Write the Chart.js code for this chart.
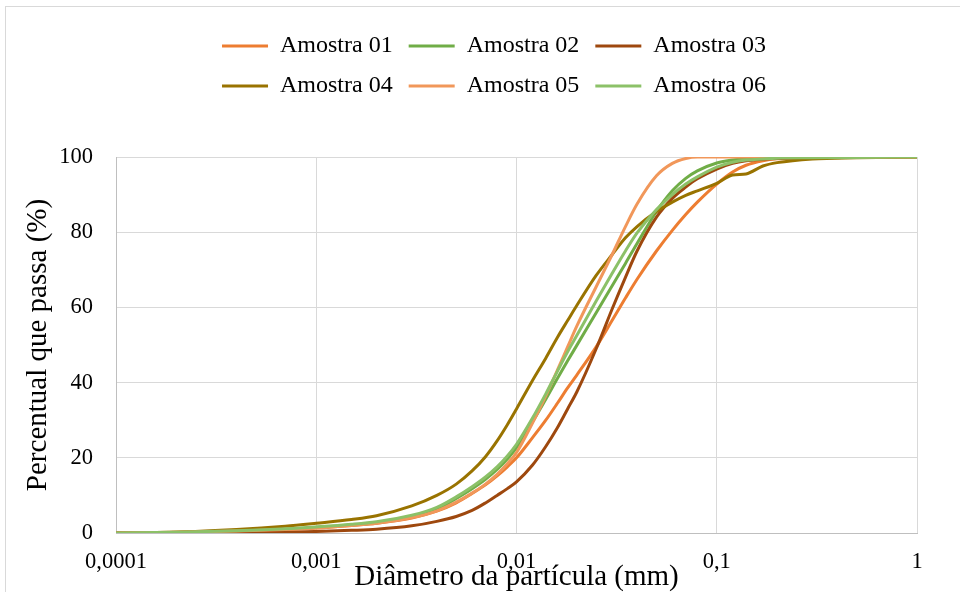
<!DOCTYPE html>
<html>
<head>
<meta charset="utf-8">
<script src="https://cdn.jsdelivr.net/npm/chart.js@4.4.1/dist/chart.umd.min.js"></script>
<style>
  body { margin: 0; background: #fff; overflow: hidden; }
  #frame { position: absolute; left: 5px; top: 6px; width: 1000px; height: 700px; border: 1px solid #d9d9d9; }
  #wrap { position: absolute; left: 0; top: 0; width: 960px; height: 592px; }
</style>
</head>
<body>
<div id="frame"></div>
<div id="wrap"><canvas id="grafico"></canvas></div>
<script>
// diametros (mm) e percentual que passa (%) de cada amostra
const diametros = [0.0001, 0.0002, 0.0004, 0.0007, 0.001, 0.0015, 0.002, 0.003, 0.004, 0.005,
    0.006, 0.007, 0.008, 0.009, 0.01, 0.012, 0.014, 0.016, 0.018, 0.02,
    0.025, 0.03, 0.035, 0.04, 0.05, 0.06, 0.07, 0.08, 0.1, 0.12,
    0.14, 0.17, 0.2, 0.3, 0.5, 1];

const amostra01 = [0, 0.2, 0.5, 0.9, 1.3, 2.0, 2.6, 4.0, 5.8, 8.0, 10.5, 12.8, 15.2, 17.6, 20, 25.3, 30, 34.5, 38.6, 42,
    49.5, 56.5, 62.5, 67.5, 75, 80.5, 84.7, 88, 92.8, 96, 97.8, 99, 99.5, 99.8, 99.9, 100];
const amostra02 = [0, 0.2, 0.5, 1.0, 1.5, 2.1, 2.7, 4.3, 6.3, 9.2, 11.8, 14.3, 16.9, 19.7, 22.7, 29.5, 35.6, 41.1, 45.8, 49.9,
    58.6, 65.7, 71.7, 77, 85.5, 91, 94.3, 96.3, 98.4, 99.2, 99.5, 99.7, 99.8, 99.9, 100, 100];
const amostra03 = [0, 0, 0.1, 0.2, 0.4, 0.7, 1.0, 1.9, 3.1, 4.4, 6.0, 8.0, 10, 11.8, 13.6, 18, 23, 28, 33, 37.5,
    49, 59.5, 68, 75, 84, 89, 92, 94.2, 96.8, 98.3, 99, 99.4, 99.6, 99.8, 99.9, 100];
const amostra04 = [0, 0.2, 0.9, 1.8, 2.6, 3.6, 4.6, 7.2, 10, 13, 16.5, 20.3, 24.5, 28.8, 33, 40.5, 46.5, 52, 56.5, 60.5,
    68.5, 74, 78.5, 81.5, 85.5, 88, 89.8, 91, 93, 95.2, 95.5, 97.6, 98.5, 99.5, 99.8, 100];
const amostra05 = [0, 0.2, 0.5, 0.9, 1.3, 2.0, 2.6, 4.1, 5.9, 8.2, 10.6, 13, 15.6, 18.4, 21.4, 29.2, 36.5, 43.3, 49.5, 55,
    65.5, 74, 81.5, 87.5, 95, 98.3, 99.6, 100, 100, 100, 100, 100, 100, 100, 100, 100];
const amostra06 = [0, 0.2, 0.6, 1.1, 1.6, 2.3, 3.0, 4.7, 6.8, 9.6, 12.3, 14.9, 17.6, 20.5, 23.6, 30.5, 37, 43, 48.2, 52.5,
    61.7, 69, 75, 79.8, 86, 90, 92.8, 94.7, 97.3, 98.6, 99.2, 99.5, 99.7, 99.8, 99.9, 100];

const nomes = ["Amostra 01", "Amostra 02", "Amostra 03", "Amostra 04", "Amostra 05", "Amostra 06"];
const cores = ["#ED7D31", "#70AD47", "#9E480E", "#997300", "#F1975A", "#8CC168"];
const xTicks = [0.0001, 0.001, 0.01, 0.1, 1];

const series = [amostra01, amostra02, amostra03, amostra04, amostra05, amostra06];
const fonte = "'Liberation Serif', 'Times New Roman', serif";

let datasets = series.map((vals, i) => ({
    label: nomes[i],
    data: diametros.map((d, j) => ({ x: d, y: vals[j] })),
    borderColor: cores[i],
    backgroundColor: cores[i],
    borderWidth: 3,
    pointRadius: 0,
    cubicInterpolationMode: "monotone",
    order: series.length - i   // ultima serie por cima
}));

// legenda: 3 itens por linha, altura fixa, centrada como no original
const ajusteLegenda = {
    id: "ajusteLegenda",
    beforeInit(chart) {
        const legend = chart.legend;
        const fit = legend.fit;
        legend.fit = function () {
            this.maxWidth = Math.min(this.maxWidth, 600);
            fit.call(this);
            this.height = 139;
        };
        const draw = legend.draw;
        legend.draw = function () {
            const c = this.ctx;
            c.save();
            c.translate(494 - (this.left + this.right) / 2, 0);
            draw.call(this);
            c.restore();
        };
    }
};

let ctx = document.getElementById("grafico").getContext("2d");

new Chart(ctx, {
    type: "line",
    data: { datasets: datasets },
    plugins: [ajusteLegenda],
    options: {
        responsive: true,
        maintainAspectRatio: false,
        animation: false,
        layout: { padding: { top: 18, left: 0, right: 43, bottom: 0 } },
        plugins: {
            tooltip: { enabled: false },
            legend: {
                position: "top",
                labels: {
                    font: { family: fonte, size: 24 },
                    color: "#000",
                    boxWidth: 46,
                    boxHeight: 3,
                    padding: 16,
                    sort: (a, b) => a.datasetIndex - b.datasetIndex,
                    generateLabels(chart) {
                        return Chart.defaults.plugins.legend.labels.generateLabels(chart)
                            .map(l => ({ ...l, fillStyle: l.strokeStyle, lineWidth: 0 }));
                    }
                }
            }
        },
        scales: {
            x: {
                type: "logarithmic",
                min: 0.0001,
                max: 1,
                afterBuildTicks: s => { s.ticks = xTicks.map(v => ({ value: v })); },
                afterFit: s => { s.height = 59; },
                ticks: {
                    callback: v => String(v).replace(".", ","),
                    font: { family: fonte, size: 22.5 },
                    color: "#000",
                    padding: 16,
                    maxRotation: 0,
                    autoSkip: false
                },
                grid: { color: "#d9d9d9", drawTicks: false },
                border: { color: "#bfbfbf" },
                title: {
                    display: true,
                    text: "Diâmetro da partícula (mm)",
                    font: { family: fonte, size: 29 },
                    color: "#000",
                    padding: { top: 0, bottom: -3 }
                }
            },
            y: {
                min: 0,
                max: 100,
                afterFit: s => { s.width = 116; },
                ticks: {
                    stepSize: 20,
                    font: { family: fonte, size: 22.5 },
                    color: "#000",
                    padding: 23
                },
                grid: { color: "#d9d9d9", drawTicks: false },
                border: { color: "#bfbfbf" },
                title: {
                    display: true,
                    text: "Percentual que passa (%)",
                    font: { family: fonte, size: 29 },
                    color: "#000",
                    padding: { top: 21, bottom: 0 }
                }
            }
        }
    }
});
</script>
</body>
</html>
